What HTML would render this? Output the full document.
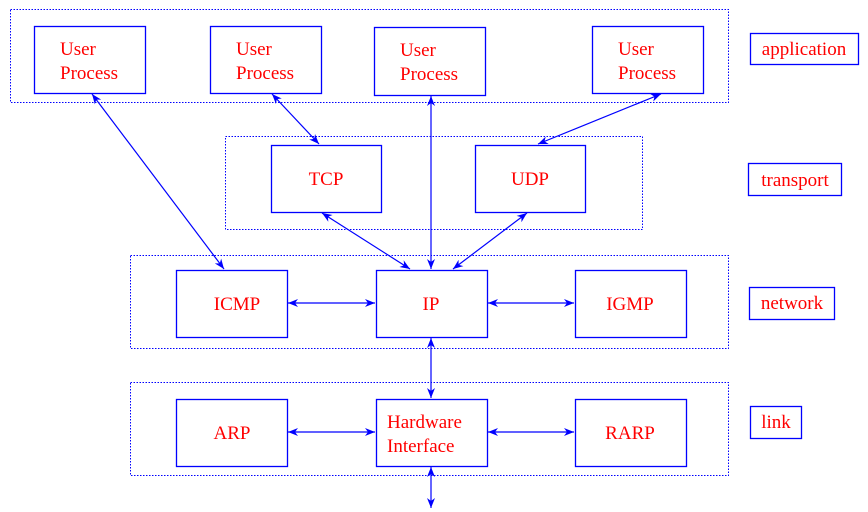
<!DOCTYPE html>
<html><head><meta charset="utf-8"><style>html,body{margin:0;padding:0;background:#fff}svg{display:block}</style></head>
<body>
<svg width="868" height="512" viewBox="0 0 868 512" xmlns="http://www.w3.org/2000/svg" font-family="Liberation Serif, serif" font-size="19" fill="none">
<defs>
<marker id="a" viewBox="0 0 10 10" refX="10" refY="5" markerWidth="10" markerHeight="10" orient="auto-start-reverse" markerUnits="userSpaceOnUse">
<path d="M0,1 L10,5 L0,9 L3,5 Z" fill="#0000ff"/>
</marker>
</defs>
<g stroke="#0000ff" stroke-width="1" stroke-dasharray="1.5,1.5">
<rect x="10.5" y="9.5" width="718" height="93"/>
<rect x="225.5" y="136.5" width="417" height="93"/>
<rect x="130.5" y="255.5" width="598" height="93"/>
<rect x="130.5" y="382.5" width="598" height="93"/>
</g>
<g stroke="#0000ff" stroke-width="1.3">
<rect x="34.5" y="26.5" width="111" height="67"/>
<rect x="210.5" y="26.5" width="111" height="67"/>
<rect x="374.5" y="27.5" width="111" height="68"/>
<rect x="592.5" y="26.5" width="111" height="67"/>
<rect x="271.5" y="145.5" width="110" height="67"/>
<rect x="475.5" y="145.5" width="110" height="67"/>
<rect x="176.5" y="270.5" width="111" height="67"/>
<rect x="376.5" y="270.5" width="111" height="67"/>
<rect x="575.5" y="270.5" width="111" height="67"/>
<rect x="176.5" y="399.5" width="111" height="67"/>
<rect x="376.5" y="399.5" width="111" height="67"/>
<rect x="575.5" y="399.5" width="111" height="67"/>
<rect x="750.5" y="33.5" width="108" height="31"/>
<rect x="748.5" y="163.5" width="93" height="32"/>
<rect x="749.5" y="287.5" width="85" height="32"/>
<rect x="750.5" y="406.5" width="51" height="32"/>
</g>
<g stroke="#0000ff" stroke-width="1.2" marker-start="url(#a)" marker-end="url(#a)">
<line x1="92" y1="94" x2="224" y2="269"/>
<line x1="272" y1="94" x2="319" y2="144"/>
<line x1="431" y1="96" x2="431" y2="269"/>
<line x1="661" y1="94" x2="538" y2="144"/>
<line x1="322" y1="213" x2="410" y2="269"/>
<line x1="527" y1="213" x2="453" y2="269"/>
<line x1="288" y1="303" x2="375" y2="303"/>
<line x1="488" y1="303" x2="574" y2="303"/>
<line x1="431" y1="338" x2="431" y2="398"/>
<line x1="288" y1="432" x2="375" y2="432"/>
<line x1="488" y1="432" x2="574" y2="432"/>
<line x1="431" y1="467" x2="431" y2="508"/>
</g>
<g fill="#ff0000">
<text x="60" y="55">User</text><text x="60" y="79">Process</text>
<text x="236" y="55">User</text><text x="236" y="79">Process</text>
<text x="400" y="56">User</text><text x="400" y="80">Process</text>
<text x="618" y="55">User</text><text x="618" y="79">Process</text>
<text x="326" y="185" text-anchor="middle">TCP</text>
<text x="530" y="185" text-anchor="middle">UDP</text>
<text x="237" y="310" text-anchor="middle">ICMP</text>
<text x="431" y="310" text-anchor="middle">IP</text>
<text x="630" y="310" text-anchor="middle">IGMP</text>
<text x="232" y="439" text-anchor="middle">ARP</text>
<text x="387" y="428">Hardware</text><text x="387" y="452">Interface</text>
<text x="630" y="439" text-anchor="middle">RARP</text>
<text x="804" y="55" text-anchor="middle">application</text>
<text x="795" y="186" text-anchor="middle">transport</text>
<text x="792" y="309" text-anchor="middle">network</text>
<text x="776" y="428" text-anchor="middle">link</text>
</g>
</svg>
</body></html>
